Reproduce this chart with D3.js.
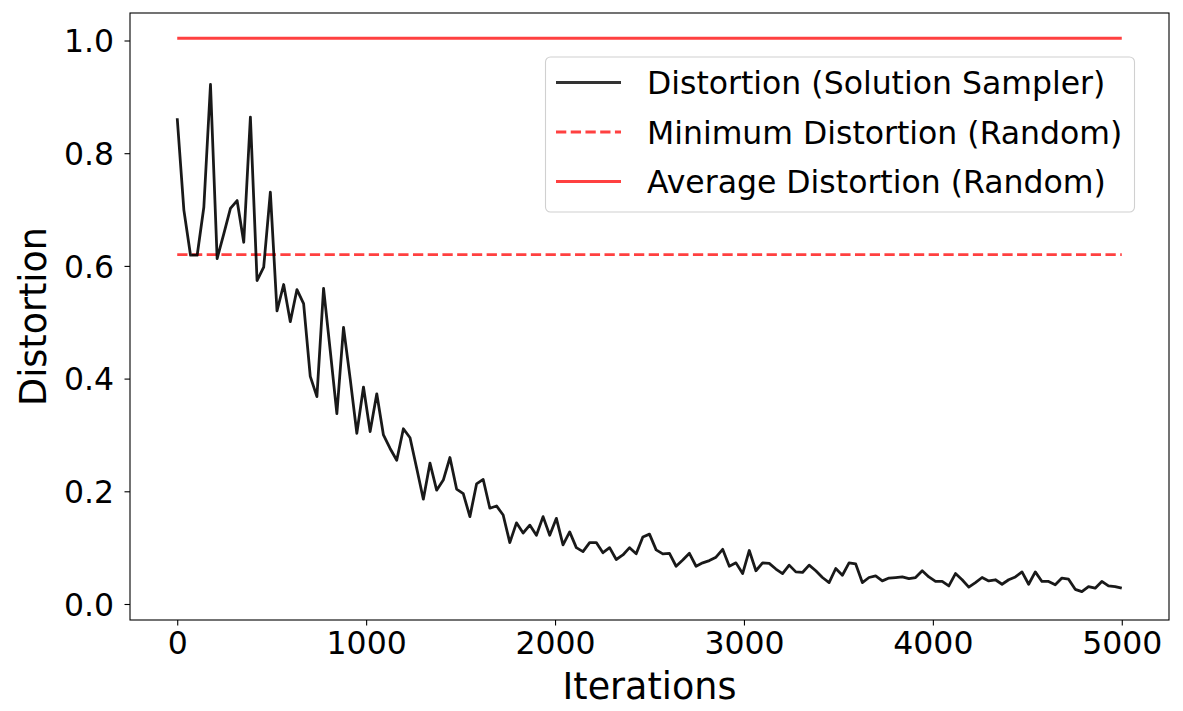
<!DOCTYPE html>
<html>
<head>
<meta charset="utf-8">
<script src="https://cdn.jsdelivr.net/npm/d3@7/dist/d3.min.js"></script>
<style>
  html, body { margin: 0; padding: 0; background: #fff; }
  svg { display: block; font-family: "DejaVu Sans", sans-serif; }
</style>
</head>
<body>
<svg id="chart" width="1183" height="711"></svg>
<script>
// ---- data ----
const distortion = [
  0.862, 0.699, 0.619, 0.619, 0.704, 0.922, 0.613, 0.657, 0.702, 0.716,
  0.642, 0.864, 0.574, 0.598, 0.731, 0.520, 0.567, 0.501, 0.558, 0.533,
  0.404, 0.368, 0.560, 0.450, 0.338, 0.491, 0.400, 0.303, 0.385, 0.306,
  0.373, 0.300, 0.276, 0.255, 0.311, 0.295, 0.241, 0.186, 0.250, 0.202,
  0.220, 0.260, 0.204, 0.196, 0.155, 0.213, 0.221, 0.170, 0.174, 0.158,
  0.109, 0.144, 0.126, 0.140, 0.122, 0.155, 0.122, 0.152, 0.105, 0.128,
  0.100, 0.093, 0.109, 0.109, 0.091, 0.100, 0.079, 0.087, 0.100, 0.089,
  0.119, 0.124, 0.096, 0.089, 0.090, 0.067, 0.078, 0.090, 0.067, 0.073,
  0.077, 0.083, 0.097, 0.067, 0.073, 0.054, 0.095, 0.059, 0.073, 0.072,
  0.062, 0.054, 0.069, 0.057, 0.056, 0.069, 0.059, 0.047, 0.038, 0.063,
  0.051, 0.073, 0.071, 0.038, 0.047, 0.050, 0.041, 0.046, 0.047, 0.048,
  0.045, 0.047, 0.059, 0.048, 0.040, 0.040, 0.032, 0.054, 0.043, 0.030,
  0.038, 0.047, 0.041, 0.043, 0.035, 0.043, 0.048, 0.057, 0.035, 0.057,
  0.040, 0.040, 0.034, 0.046, 0.044, 0.026, 0.022, 0.031, 0.028, 0.040,
  0.032, 0.031, 0.028
];
const maxIteration = 5000;
const iterations = distortion.map((_, i) => i * maxIteration / (distortion.length - 1));
const minDistortionRandom = 0.620;
const avgDistortionRandom = 1.004;
const xTicks = [0, 1000, 2000, 3000, 4000, 5000];
const yTicks = [0.0, 0.2, 0.4, 0.6, 0.8, 1.0];
const legendLabels = [
  "Distortion (Solution Sampler)",
  "Minimum Distortion (Random)",
  "Average Distortion (Random)"
];

// ---- layout ----
const svg = d3.select("#chart");
const L = 130, R = 1169, T = 13, B = 620;
const tickFont = 31.5, legendFont = 31.5, labelFont = 36.5;
const red = "rgba(255,0,0,0.75)";
const lw = 2.78;

const x = d3.scaleLinear().domain([-250, 5250]).range([L, R]);
const y = d3.scaleLinear().domain([-0.0284, 1.0488]).range([B, T]);

// axes
const xAxis = d3.axisBottom(x).tickValues(xTicks).tickFormat(d3.format("d"))
  .tickSizeInner(5.5).tickSizeOuter(0).tickPadding(4.9);
const yAxis = d3.axisLeft(y).tickValues(yTicks).tickFormat(d3.format(".1f"))
  .tickSizeInner(5.5).tickSizeOuter(0).tickPadding(10.5);

const gx = svg.append("g").attr("transform", `translate(0,${B})`).call(xAxis);
const gy = svg.append("g").attr("transform", `translate(${L},0)`).call(yAxis);
[gx, gy].forEach(g => {
  g.select(".domain").remove();
  g.selectAll(".tick line").attr("stroke", "#000").attr("stroke-width", 1.1);
  g.selectAll(".tick text").attr("fill", "#000")
    .style("font-size", tickFont + "px").style("font-family", "DejaVu Sans");
});
gy.selectAll(".tick text").attr("dy", "0.36em");
gx.selectAll(".tick text").attr("dy", "0.74em");

// red reference lines
svg.append("line")
  .attr("x1", x(0)).attr("x2", x(maxIteration))
  .attr("y1", y(avgDistortionRandom)).attr("y2", y(avgDistortionRandom))
  .attr("stroke", red).attr("stroke-width", lw);
svg.append("line")
  .attr("x1", x(0)).attr("x2", x(maxIteration))
  .attr("y1", y(minDistortionRandom)).attr("y2", y(minDistortionRandom))
  .attr("stroke", red).attr("stroke-width", lw)
  .attr("stroke-dasharray", `${3.7 * lw},${1.6 * lw}`);

// main line
const line = d3.line().x((d, i) => x(iterations[i])).y(d => y(d));
svg.append("path")
  .datum(distortion)
  .attr("d", line)
  .attr("fill", "none")
  .attr("stroke", "rgba(0,0,0,0.9)")
  .attr("stroke-width", lw)
  .attr("stroke-linejoin", "round");

// spines
svg.append("rect")
  .attr("x", L).attr("y", T).attr("width", R - L).attr("height", B - T)
  .attr("fill", "none").attr("stroke", "#000").attr("stroke-width", 1.1);

// axis labels
svg.append("text")
  .attr("x", (L + R) / 2).attr("y", 699)
  .attr("text-anchor", "middle")
  .style("font-size", labelFont + "px")
  .text("Iterations");
svg.append("text")
  .attr("transform", `translate(46,${(T + B) / 2}) rotate(-90)`)
  .attr("text-anchor", "middle")
  .style("font-size", labelFont + "px")
  .text("Distortion");

// legend
const lg = svg.append("g");
lg.append("rect")
  .attr("x", 545.5).attr("y", 57).attr("width", 589).attr("height", 155)
  .attr("rx", 5).attr("ry", 5)
  .attr("fill", "rgba(255,255,255,0.8)")
  .attr("stroke", "#d0d0d0").attr("stroke-width", 1.1);
const rowsY = [82.5, 132, 181.5];
const styles = [
  { stroke: "rgba(0,0,0,0.8)", dash: null },
  { stroke: red, dash: `${3.7 * lw},${1.6 * lw}` },
  { stroke: red, dash: null }
];
legendLabels.forEach((lab, i) => {
  const ln = lg.append("line")
    .attr("x1", 556).attr("x2", 621)
    .attr("y1", rowsY[i]).attr("y2", rowsY[i])
    .attr("stroke", styles[i].stroke).attr("stroke-width", lw);
  if (styles[i].dash) ln.attr("stroke-dasharray", styles[i].dash);
  lg.append("text")
    .attr("x", 647).attr("y", rowsY[i] + 11.5)
    .style("font-size", legendFont + "px")
    .attr("fill", "#000")
    .text(lab);
});
</script>
</body>
</html>
